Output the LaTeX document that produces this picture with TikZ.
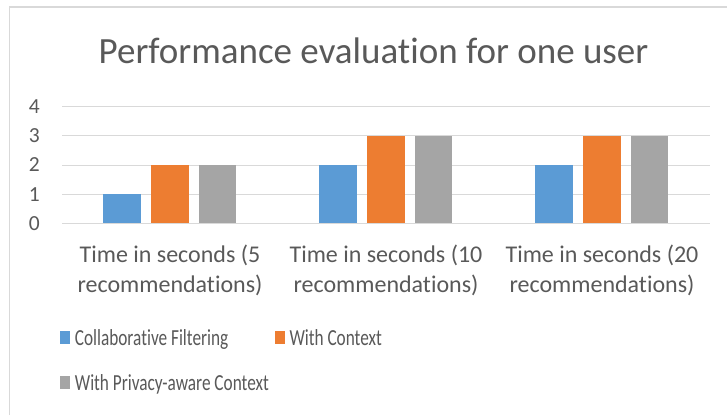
\documentclass[tikz,border=0pt]{standalone}
\usepackage{fontspec}
\setmainfont{Carlito}[Ligatures=NoCommon]
\usepackage{graphicx}
\usetikzlibrary{positioning}
\definecolor{cfblue}{HTML}{5B9BD5}
\definecolor{ctxorange}{HTML}{ED7D31}
\definecolor{privgray}{HTML}{A5A5A5}
\definecolor{txtgray}{HTML}{595959}
\definecolor{gridgray}{HTML}{D9D9D9}
\tikzset{
	gridline/.style={line width=1pt, color=gridgray},
	ticklabel/.style={anchor=east, inner sep=0pt, text=txtgray, font=\fontsize{21.5}{25}\selectfont},
	catlabel/.style={align=center, inner sep=0pt, text=txtgray, font=\fontsize{24}{30}\selectfont},
	keybox/.style={minimum width=10pt, minimum height=13pt, inner sep=0pt},
	keytext/.style={anchor=base west, inner sep=0pt, text=txtgray, font=\fontsize{23}{25}\selectfont}
}

\begin{document}
\begin{tikzpicture}[x=1pt, y=-1pt]
		%%%%% START %%%%%
		
		\useasboundingbox (0, 0) rectangle (727, 415);
		\fill[white] (0, 0) rectangle (727, 415);
		\draw[line width=1.2pt, color=gridgray] (9.5, 415) -- (9.5, 7) -- (727, 7);
		
		\node[anchor=base, inner sep=0pt, text=txtgray, font=\fontsize{37}{40}\selectfont] (title) at (373.5, 63.3) {Performance evaluation for one user};
		
		\draw[gridline] (62, 106.5) -- (710, 106.5);
		\draw[gridline] (62, 135.75) -- (710, 135.75);
		\draw[gridline] (62, 165) -- (710, 165);
		\draw[gridline] (62, 194.25) -- (710, 194.25);
		\draw[gridline] (62, 223.5) -- (710, 223.5);
		
		\node[ticklabel] (t4) at (40, 106.5) {4};
		\node[ticklabel] (t3) at (40, 135.75) {3};
		\node[ticklabel] (t2) at (40, 165) {2};
		\node[ticklabel] (t1) at (40, 194.25) {1};
		\node[ticklabel] (t0) at (40, 223.5) {0};
		
		\fill[cfblue] (103, 223) rectangle (140.7, 194.25);
		\fill[ctxorange] (151, 223) rectangle (188.7, 165);
		\fill[privgray] (198.7, 223) rectangle (236.4, 165);
		
		\fill[cfblue] (319, 223) rectangle (356.7, 165);
		\fill[ctxorange] (367, 223) rectangle (404.7, 135.75);
		\fill[privgray] (414.7, 223) rectangle (452.4, 135.75);
		
		\fill[cfblue] (535, 223) rectangle (572.7, 165);
		\fill[ctxorange] (583, 223) rectangle (620.7, 135.75);
		\fill[privgray] (630.7, 223) rectangle (668.4, 135.75);
		
		\node[catlabel] (c5) at (170, 270.7) {Time in seconds (5\\recommendations)};
		\node[catlabel] (c10) at (386, 270.7) {Time in seconds (10\\recommendations)};
		\node[catlabel] (c20) at (602, 270.7) {Time in seconds (20\\recommendations)};
		
		\node[keybox, fill=cfblue] (kcf) at (65.3, 337.7) {};
		\node[keytext] (kcftext) at (74.7, 345) {\scalebox{0.75}[1]{Collaborative Filtering}};
		\node[keybox, fill=ctxorange] (kctx) at (280.3, 337.7) {};
		\node[keytext] (kctxtext) at (289.3, 345) {\scalebox{0.75}[1]{With Context}};
		\node[keybox, fill=privgray] (kpriv) at (65.3, 382.7) {};
		\node[keytext] (kprivtext) at (74.7, 390) {\scalebox{0.75}[1]{With Privacy-aware Context}};
		
		%%%%% END %%%%%
	\end{tikzpicture}
\end{document}
